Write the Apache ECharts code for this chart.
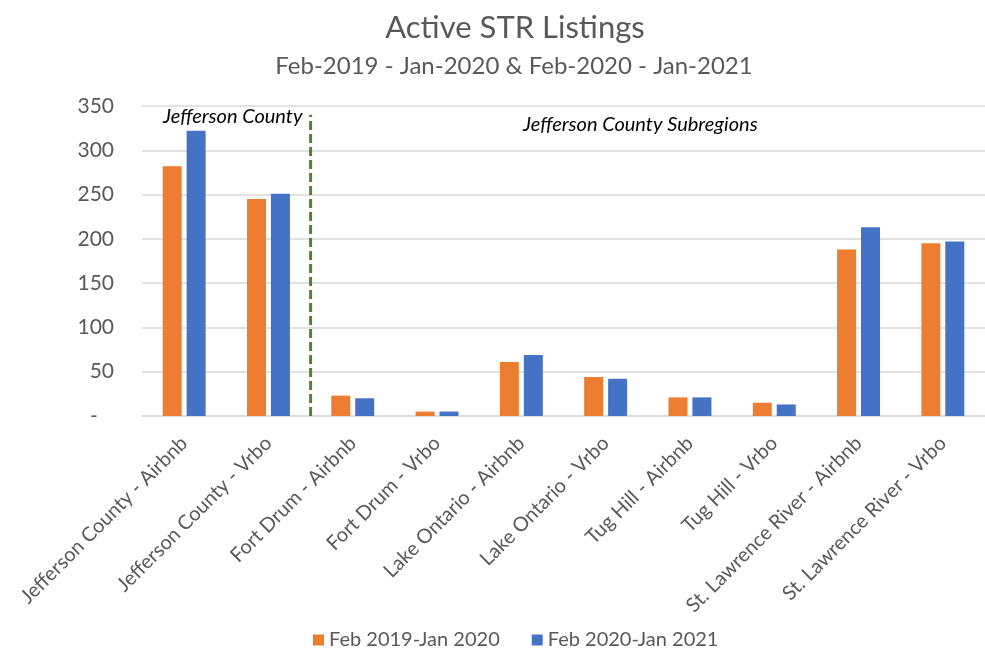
<!DOCTYPE html>
<html>
<head>
<meta charset="utf-8">
<title>Active STR Listings</title>
<script src="https://cdn.jsdelivr.net/npm/echarts@6/dist/echarts.min.js"></script>
<style>
  html, body { margin: 0; padding: 0; background: #fff; }
  #chart { width: 985px; height: 648px; }
</style>
</head>
<body>
<div id="chart"></div>
<script>
const categories = [
  'Jefferson County - Airbnb',
  'Jefferson County - Vrbo',
  'Fort Drum - Airbnb',
  'Fort Drum - Vrbo',
  'Lake Ontario - Airbnb',
  'Lake Ontario - Vrbo',
  'Tug Hill - Airbnb',
  'Tug Hill - Vrbo',
  'St. Lawrence River - Airbnb',
  'St. Lawrence River - Vrbo'
]
const seriesNames = ['Feb 2019-Jan 2020', 'Feb 2020-Jan 2021']
const period1 = [282, 245, 23, 5, 61, 44, 21, 15, 188, 195]
const period2 = [322, 251, 20, 5, 69, 42, 21, 13, 213, 197]
const yTicks = [0, 50, 100, 150, 200, 250, 300, 350]
// divider between county totals and subregions (category boundary, in category units)
const dividerX = 2
const dividerTop = 340

const textColor = '#595959'
const gridColor = '#d9d9d9'
const fontFamily = 'Lato, "Open Sans", sans-serif'

const chart = echarts.init(document.getElementById('chart'))

const option = {
  backgroundColor: '#fff',
  animation: false,
  textStyle: { fontFamily: fontFamily },
  title: [
    {
      text: 'Active STR Listings',
      left: 510,
      top: 7,
      textAlign: 'center',
      textStyle: { color: textColor, fontSize: 31, fontWeight: 'normal', fontFamily: fontFamily }
    },
    {
      text: 'Feb-2019 - Jan-2020 & Feb-2020 - Jan-2021',
      left: 509,
      top: 49,
      textAlign: 'center',
      textStyle: { color: textColor, fontSize: 24, fontWeight: 'normal', fontFamily: fontFamily }
    }
  ],
  legend: {
    data: seriesNames,
    left: 308,
    top: 625,
    icon: 'rect',
    itemWidth: 11,
    itemHeight: 11,
    itemGap: 32,
    textStyle: { color: textColor, fontSize: 20, fontFamily: fontFamily }
  },
  grid: {
    left: 142,
    top: 106,
    width: 861,
    height: 310
  },
  xAxis: [
    {
      type: 'category',
      data: categories,
      axisLine: { lineStyle: { color: gridColor, width: 1.5 } },
      axisTick: { show: false },
      axisLabel: {
        interval: 0,
        rotate: 45,
        margin: 24,
        color: textColor,
        fontSize: 20,
        fontFamily: fontFamily
      }
    },
    {
      type: 'value',
      min: 0,
      max: categories.length,
      show: false
    }
  ],
  yAxis: {
    type: 'value',
    min: yTicks[0],
    max: yTicks[yTicks.length - 1],
    interval: yTicks[1] - yTicks[0],
    axisLine: { show: false },
    axisTick: { show: false },
    splitLine: { lineStyle: { color: gridColor, width: 1.5 } },
    axisLabel: {
      margin: 28,
      color: textColor,
      fontSize: 21,
      fontFamily: fontFamily,
      formatter: function (v) { return v === 0 ? '-   ' : String(v) }
    }
  },
  series: [
    {
      name: seriesNames[0],
      type: 'bar',
      data: period1,
      barWidth: 19,
      barGap: '26%',
      itemStyle: { color: '#ED7D31' }
    },
    {
      name: seriesNames[1],
      type: 'bar',
      data: period2,
      barWidth: 19,
      itemStyle: { color: '#4472C4' }
    },
    {
      name: 'divider',
      type: 'line',
      xAxisIndex: 1,
      data: [[dividerX, 0], [dividerX, dividerTop]],
      symbol: 'none',
      silent: true,
      lineStyle: { color: '#548235', width: 3, type: [9, 4] }
    }
  ],
  graphic: [
    {
      type: 'text',
      left: 163,
      top: 107,
      style: {
        text: 'Jefferson County',
        fill: '#000',
        font: 'italic 20px ' + fontFamily
      }
    },
    {
      type: 'text',
      left: 523,
      top: 115,
      style: {
        text: 'Jefferson County Subregions',
        fill: '#000',
        font: 'italic 20px ' + fontFamily
      }
    }
  ]
}

chart.setOption(option)
</script>
</body>
</html>
